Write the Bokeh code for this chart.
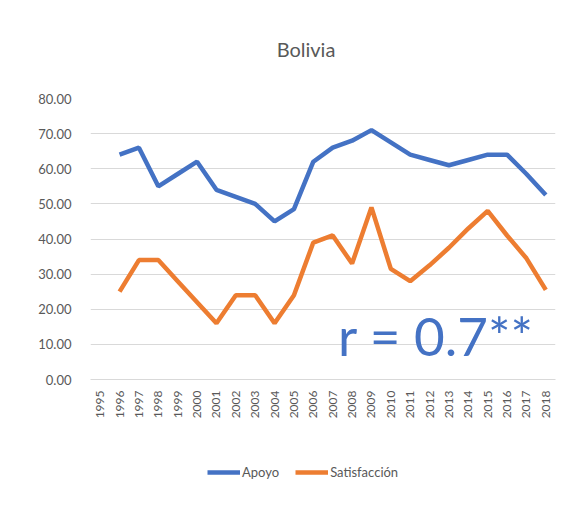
import math
from bokeh.plotting import figure
from bokeh.layouts import column
from bokeh.models import Legend, LegendItem, Label, FixedTicker, NumeralTickFormatter, FactorRange, Range1d
from bokeh.embed import file_html
from bokeh.resources import INLINE

# ---- data ----
years = [str(y) for y in range(1995, 2019)]
data_years = [str(y) for y in range(1996, 2019)]
apoyo = [64, 66, 55, 58.5, 62, 54, 52, 50, 45, 48.5, 62, 66, 68, 71, 67.5,
         64, 62.5, 61, 62.5, 64, 64, 58.5, 52.5]
satisfaccion = [25, 34, 34, 28, 22, 16, 24, 24, 16, 24, 39, 41, 33, 49, 31.5,
                28, 32.5, 37.5, 43, 48, 41, 34.5, 25.5]
y_ticks = [0, 10, 20, 30, 40, 50, 60, 70, 80]
series_names = ["Apoyo", "Satisfacción"]
title_text = "Bolivia"
annotation_text = "r = 0.7**"

BLUE = "#4472C4"
ORANGE = "#ED7D31"
GRAY = "#595959"
FONT = "Lato"

# ---- title strip ----
pt = figure(width=572, height=88, output_backend="svg", toolbar_location=None,
            min_border=0, x_range=Range1d(90, 555), y_range=Range1d(88, 0))
pt.outline_line_color = None
pt.axis.visible = False
pt.grid.visible = False
pt.add_layout(Label(x=305.5, y=48, text=title_text, text_font=FONT, text_font_size="20px",
                    text_color=GRAY, text_align="center", text_baseline="middle"))

# ---- main chart ----
p = figure(width=572, height=333, x_range=FactorRange(*years, range_padding=0),
           y_range=Range1d(0, 80), output_backend="svg", toolbar_location=None,
           min_border_left=90, min_border_right=17, min_border_top=10, min_border_bottom=40)

p.line(data_years, apoyo, line_color=BLUE, line_width=4.5)
p.line(data_years, satisfaccion, line_color=ORANGE, line_width=4.5)

p.outline_line_color = None
p.xgrid.grid_line_color = None
p.ygrid.grid_line_color = "#d9d9d9"
p.ygrid.grid_line_width = 1

p.yaxis.ticker = FixedTicker(ticks=y_ticks)
p.yaxis.formatter = NumeralTickFormatter(format="0.00")
p.yaxis.axis_line_color = None
p.yaxis.major_tick_line_color = None
p.yaxis.minor_tick_line_color = None
p.yaxis.major_label_text_font = FONT
p.yaxis.major_label_text_font_size = "13px"
p.yaxis.major_label_text_color = GRAY
p.yaxis.major_label_standoff = 13

p.xaxis.axis_line_color = "#d9d9d9"
p.xaxis.major_tick_line_color = None
p.xaxis.minor_tick_line_color = None
p.xaxis.major_label_orientation = math.pi / 2
p.xaxis.major_label_text_font = FONT
p.xaxis.major_label_text_font_size = "12px"
p.xaxis.major_label_text_color = GRAY
p.xaxis.major_label_standoff = 5

p.add_layout(Label(x=22.9, y=12.5, text=annotation_text, text_font=FONT, text_font_size="53px",
                   text_color=BLUE, text_align="right", text_baseline="alphabetic"))

# ---- legend strip ----
pl = figure(width=572, height=84, output_backend="svg", toolbar_location=None,
            min_border=0, x_range=Range1d(0, 1), y_range=Range1d(0, 1))
pl.outline_line_color = None
pl.axis.visible = False
pl.grid.visible = False
idx = list(range(len(data_years)))
la = pl.line(idx, apoyo, line_color=BLUE, line_width=4.5, visible=False)
ls = pl.line(idx, satisfaccion, line_color=ORANGE, line_width=4.5, visible=False)
legend = Legend(items=[LegendItem(label=series_names[0], renderers=[la]),
                       LegendItem(label=series_names[1], renderers=[ls])],
                orientation="horizontal", location=(117, 23),
                label_text_font=FONT, label_text_font_size="13px", label_text_color=GRAY,
                glyph_width=33, spacing=16, padding=0, margin=0, label_standoff=2,
                border_line_color=None, background_fill_alpha=0)
pl.add_layout(legend, "center")

layout = column(pt, p, pl, spacing=0)
open("out.html", "w").write(file_html(layout, INLINE))
